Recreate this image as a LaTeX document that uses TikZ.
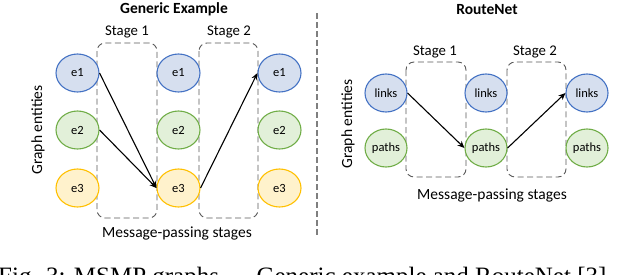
\documentclass[tikz,border=0pt]{standalone}
\usepackage{fontspec}
\setmainfont{Carlito}
\newfontfamily\capfont{Liberation Serif}
\usetikzlibrary{shapes.geometric,arrows.meta}
\definecolor{blueE}{HTML}{4472C4}
\definecolor{blueF}{HTML}{D6DFEF}
\definecolor{greenE}{HTML}{70AD47}
\definecolor{greenF}{HTML}{E2F0D9}
\definecolor{orangeE}{HTML}{FFC000}
\definecolor{orangeF}{HTML}{FFF2CC}
\definecolor{boxgray}{HTML}{595959}
\definecolor{divgray}{HTML}{7F7F7F}
\tikzset{
  ent/.style={ellipse, minimum width=43pt, minimum height=38pt, inner sep=0pt, line width=1.1pt, font=\fontsize{12.5}{14}\selectfont},
  bluent/.style={ent, draw=blueE, fill=blueF},
  greenent/.style={ent, draw=greenE, fill=greenF},
  orangeent/.style={ent, draw=orangeE, fill=orangeF},
  stagebox/.style={draw=boxgray, dash pattern=on 6pt off 3.5pt, rounded corners=8pt, line width=0.9pt},
  msgarrow/.style={-{Stealth[length=7pt,width=6pt]}, line width=1.1pt},
  titletext/.style={font=\fontsize{15.5}{18}\selectfont\bfseries},
  stagetext/.style={font=\fontsize{14.8}{17}\selectfont},
  labeltext/.style={font=\fontsize{15.5}{18}\selectfont},
  divider/.style={draw=divgray, line width=2pt, dash pattern=on 6pt off 3pt}
}
\begin{document}
\begin{tikzpicture}[x=1pt,y=-1pt]
\useasboundingbox (0,0) rectangle (640,274);
% ---------- left panel ----------
\node[titletext] (t1) at (174,9.5) {Generic Example};
\draw[stagebox] (97,43) rectangle (157,218);
\draw[stagebox] (199,43) rectangle (258,218);
\node[stagetext] (s1a) at (127,32) {Stage 1};
\node[stagetext] (s2a) at (229,32) {Stage 2};
\node[labeltext, rotate=90] (ge1) at (38,130) {Graph entities};
\node[labeltext] (mp1) at (177,233) {Message-passing stages};
\node[bluent] (a11) at (77.5,73) {e1};
\node[greenent] (a12) at (77.5,130) {e2};
\node[orangeent] (a13) at (77.5,188) {e3};
\node[bluent] (a21) at (178.5,73) {e1};
\node[greenent] (a22) at (178.5,130) {e2};
\node[orangeent] (a23) at (178.5,188) {e3};
\node[bluent] (a31) at (279.5,73) {e1};
\node[greenent] (a32) at (279.5,130) {e2};
\node[orangeent] (a33) at (279.5,188) {e3};
\draw[msgarrow] (a11.east) -- (a23.west);
\draw[msgarrow] (a12.east) -- (a23.west);
\draw[msgarrow] (a23.east) -- (a31.west);
% ---------- divider ----------
\coordinate (d1) at (317,13);
\coordinate (d2) at (317,235);
\draw[divider] (d1) -- (d2);
% ---------- right panel ----------
\node[titletext] (t2) at (487,9.5) {RouteNet};
\draw[stagebox] (406,62) rectangle (466,177);
\draw[stagebox] (507,62) rectangle (566,177);
\node[stagetext] (s1b) at (435,52) {Stage 1};
\node[stagetext] (s2b) at (535,52) {Stage 2};
\node[labeltext, rotate=90] (ge2) at (348,124) {Graph entities};
\node[labeltext] (mp2) at (492,195) {Message-passing stages};
\node[bluent, minimum width=42pt] (b11) at (386,93) {links};
\node[greenent, minimum width=42pt] (b12) at (386,148) {paths};
\node[bluent, minimum width=42pt] (b21) at (486,93) {links};
\node[greenent, minimum width=42pt] (b22) at (486,148) {paths};
\node[bluent, minimum width=42pt] (b31) at (587,93) {links};
\node[greenent, minimum width=42pt] (b32) at (587,148) {paths};
\draw[msgarrow] (b11.east) -- (b22.west);
\draw[msgarrow] (b22.east) -- (b31.west);
% ---------- caption (cut off, as in the reference) ----------
\node[anchor=base west, inner sep=0pt, font=\capfont\fontsize{25}{27}\selectfont] (cap) at (-2,284) {Fig. 3: MSMP graphs — Generic example and RouteNet [3]};
\end{tikzpicture}
\end{document}
